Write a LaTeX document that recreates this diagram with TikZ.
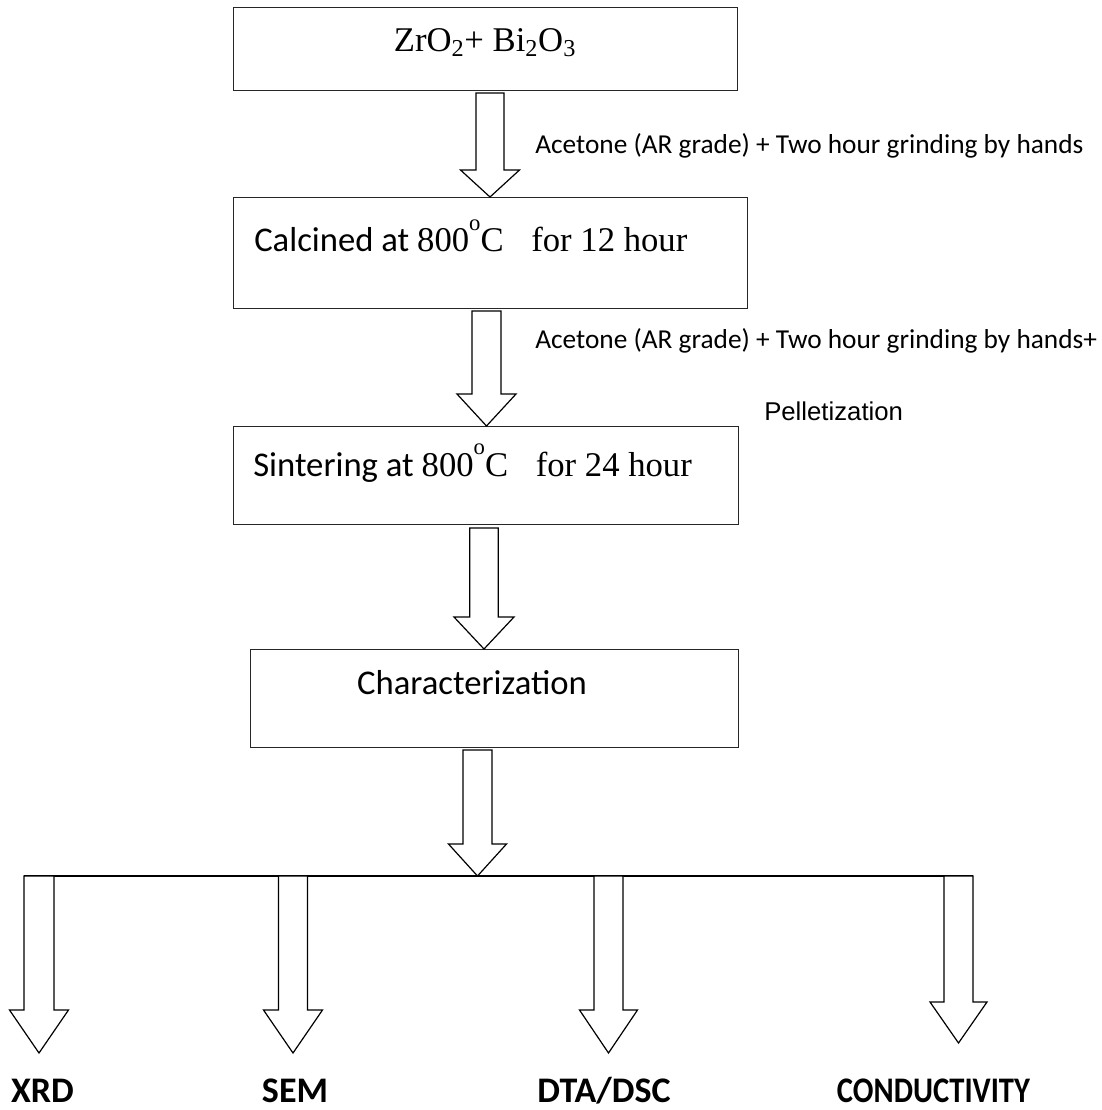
\documentclass[tikz,border=0pt]{standalone}
\usepackage{fontspec}
\setmainfont{Liberation Serif}
\newfontfamily\carl{Carlito}
\newfontfamily\arialf{Liberation Sans}
\usetikzlibrary{calc}
\tikzset{
  boxst/.style={draw=black!85, line width=1pt, inner sep=0pt, anchor=north west},
  barrow/.style={draw=black, line width=0.9pt, fill=white, line join=miter},
  boxtext/.style={font=\fontsize{26}{30}\selectfont, inner sep=0pt},
  steplabel/.style={font=\carl\fontsize{20.5}{24}\selectfont, inner sep=0pt, anchor=west},
  outlabel/.style={font=\carl\bfseries\fontsize{27}{31}\selectfont, inner sep=0pt, anchor=base}
}
\newcommand{\blockarrow}[6]{% x, top y, head top y, tip y, shaft half, head half
  \draw[barrow] (#1-#5,#2) -- (#1-#5,#3) -- (#1-#6,#3) -- (#1,#4) -- (#1+#6,#3) -- (#1+#5,#3) -- (#1+#5,#2) -- cycle;}
\newcommand{\supo}{\raisebox{0.62em}{\fontsize{17}{20}\selectfont o}}
\begin{document}
\begin{tikzpicture}[x=0.75pt,y=-0.75pt]
\useasboundingbox (0,0) rectangle (1102,1110);
% boxes
\node[boxst, minimum width=378pt, minimum height=62.25pt] (b1) at (233,7) {};
\node[boxtext] (t1) at (485,43) {ZrO\textsubscript{2}+ Bi\textsubscript{2}O\textsubscript{3}};
\node[boxst, minimum width=385.5pt, minimum height=83.25pt] (b2) at (233,197) {};
\node[boxtext, anchor=west] (t2) at (254,236) {{\carl Calcined at }800\supo C\hspace{0.55em} for 12 hour};
\node[boxst, minimum width=378.75pt, minimum height=73.5pt] (b3) at (233,426) {};
\node[boxtext, anchor=west] (t3) at (253,463) {{\carl Sintering at }800\supo C\hspace{0.55em} for 24 hour};
\node[boxst, minimum width=366pt, minimum height=73.5pt] (b4) at (250,649) {};
\node[boxtext, font=\carl\fontsize{26}{30}\selectfont] (t4) at (472,683) {Characterization};
% step labels
\node[steplabel] (l1) at (535,146) {Acetone (AR grade) + Two hour grinding by hands};
\node[steplabel] (l2) at (535,341) {Acetone (AR grade) + Two hour grinding by hands+};
\node[inner sep=0pt, anchor=west, font=\arialf\fontsize{19.3}{23}\selectfont] (l3) at (764,411) {Pelletization};
% vertical block arrows
\blockarrow{490}{93}{170}{197}{14}{29.5}
\blockarrow{486.5}{311}{394}{426}{14.5}{29.5}
\blockarrow{484}{528}{617}{649}{14.3}{30}
\blockarrow{477.5}{750}{844}{876}{14.5}{29}
% distribution line
\coordinate (lineL) at (24,876);
\coordinate (lineR) at (973,876);
\draw[line width=1pt] (lineL) -- (lineR);
% branch arrows
\blockarrow{39}{876}{1010}{1053}{15}{29.5}
\blockarrow{293}{876}{1010}{1053}{14.5}{29.5}
\blockarrow{608.5}{876}{1010}{1053}{14.5}{29}
\blockarrow{958.5}{876}{1002}{1043}{14.5}{28.5}
% outcome labels
\node[outlabel] (o1) at (42.5,1102) {XRD};
\node[outlabel] (o2) at (295,1102) {SEM};
\node[outlabel] (o3) at (604,1102) {DTA/DSC};
\node[outlabel] (o4) at (933.5,1102) {\scalebox{0.85}[1]{CONDUCTIVITY}};
\end{tikzpicture}
\end{document}
